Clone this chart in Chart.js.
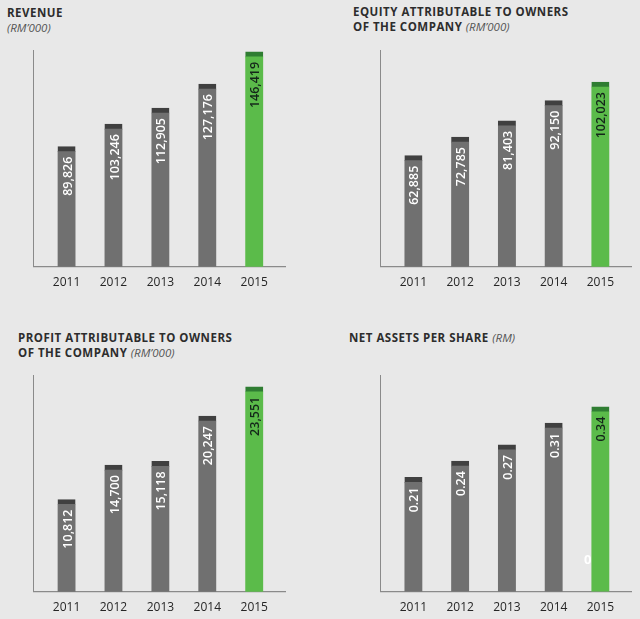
<!DOCTYPE html>
<html>
<head>
<meta charset="utf-8">
<script src="https://cdn.jsdelivr.net/npm/chart.js@4/dist/chart.umd.min.js"></script>
<style>
  html, body { margin:0; padding:0; }
  body { width:640px; height:619px; background:#e8e8e8; position:relative; overflow:hidden; font-family:"Open Sans", sans-serif; }
  canvas { position:absolute; }
  .t { position:absolute; font-size:11.5px; line-height:15px; font-weight:700; color:#2d2d2d; letter-spacing:0.5px; white-space:nowrap; }
  .t i { font-weight:400; color:#555; letter-spacing:0; }
  .stray { position:absolute; left:584px; top:550px; color:#fff; font-size:13px; font-weight:700; }
</style>
</head>
<body>
<div class="t" style="left:7px;top:4.7px">REVENUE<br><i>(RM’000)</i></div>
<div class="t" style="left:353px;top:5.3px;line-height:14.5px">EQUITY ATTRIBUTABLE TO OWNERS<br>OF THE COMPANY <i>(RM’000)</i></div>
<div class="t" style="left:18px;top:329.7px">PROFIT ATTRIBUTABLE TO OWNERS<br>OF THE COMPANY <i>(RM’000)</i></div>
<div class="t" style="left:349px;top:329.7px">NET ASSETS PER SHARE <i>(RM)</i></div>
<canvas id="c1"></canvas>
<canvas id="c2"></canvas>
<canvas id="c3"></canvas>
<canvas id="c4"></canvas>
<div class="stray">0</div>
<script>
// ---- data ----
const years = ['2011', '2012', '2013', '2014', '2015'];
const revenue = [89826, 103246, 112905, 127176, 146419];
const equity = [62885, 72785, 81403, 92150, 102023];
const profit = [10812, 14700, 15118, 20247, 23551];
const netAssetsPerShare = [0.21, 0.24, 0.27, 0.31, 0.34];
const highlightYear = '2015';

// axis ranges
const revenueRange = [18150, 147100];
const equityRange = [3930, 118640];
const profitRange = [400, 24800];
const napsRange = [0, 0.397];

Chart.defaults.font.family = '"Open Sans", sans-serif';
Chart.defaults.animation = false;

const GRAY = '#707070', GRAY_CAP = '#404040';
const GREEN = '#5bbb4a', GREEN_CAP = '#2f7d32';

function makeChart(id, box, area, values, range, fmt) {
  const cv = document.getElementById(id);
  cv.style.left = box[0] + 'px';
  cv.style.top = box[1] + 'px';
  cv.style.width = box[2] + 'px';
  cv.style.height = box[3] + 'px';
  cv.width = box[2]; cv.height = box[3];
  const xAxisH = 26;
  const isHi = years.map(y => y === highlightYear);
  const labelPlugin = {
    id: 'vlabels',
    afterDatasetsDraw(chart) {
      const ctx = chart.ctx;
      chart.getDatasetMeta(0).data.forEach((bar, i) => {
        ctx.save();
        ctx.translate(bar.x + 1.5, bar.y + 10);
        ctx.rotate(-Math.PI / 2);
        ctx.textAlign = 'right';
        ctx.textBaseline = 'middle';
        ctx.font = '600 12.5px "Open Sans", sans-serif';
        ctx.fillStyle = isHi[i] ? '#14261a' : '#ffffff';
        ctx.fillText(fmt(values[i]), 0, 0);
        ctx.restore();
      });
    }
  };
  return new Chart(cv, {
    type: 'bar',
    data: {
      datasets: [{
        data: values.map((v, i) => ({ x: i, y: v })),
        backgroundColor: isHi.map(h => h ? GREEN : GRAY),
        borderColor: isHi.map(h => h ? GREEN_CAP : GRAY_CAP),
        borderWidth: { top: 5, left: 0, right: 0, bottom: 0 },
        borderSkipped: 'bottom',
        barThickness: 18
      }]
    },
    options: {
      responsive: false,
      maintainAspectRatio: false,
      layout: { padding: { left: area[0], right: box[2] - area[1], top: area[2], bottom: box[3] - area[3] - xAxisH } },
      plugins: { legend: { display: false }, tooltip: { enabled: false } },
      scales: {
        x: {
          type: 'linear', min: -0.7, max: 4.67, offset: false,
          afterBuildTicks: s => { s.ticks = years.map((_, i) => ({ value: i })); },
          afterFit: s => { s.height = xAxisH; },
          grid: { display: false, offset: false },
          border: { display: true, color: '#8a8a8a', width: 1.2 },
          ticks: { callback: v => years[v], color: '#262626', font: { size: 12 }, padding: 1, maxRotation: 0, autoSkip: false }
        },
        y: {
          min: range[0], max: range[1],
          afterFit: s => { s.width = 0; },
          grid: { display: false },
          border: { display: true, color: '#8a8a8a', width: 1 },
          ticks: { display: false }
        }
      }
    },
    plugins: [labelPlugin]
  });
}

const thousands = v => v.toLocaleString('en-US');
const twoDp = v => v.toFixed(2);

makeChart('c1', [0, 0, 320, 310], [33.7, 285.7, 50.7, 266.7], revenue, revenueRange, thousands);
makeChart('c2', [320, 0, 320, 310], [60.7, 311.7, 50.7, 266.7], equity, equityRange, thousands);
makeChart('c3', [0, 310, 320, 309], [33.7, 285.7, 65.7, 281.7], profit, profitRange, thousands);
makeChart('c4', [320, 310, 320, 309], [60.7, 311.7, 65.7, 281.7], netAssetsPerShare, napsRange, twoDp);
</script>
</body>
</html>
